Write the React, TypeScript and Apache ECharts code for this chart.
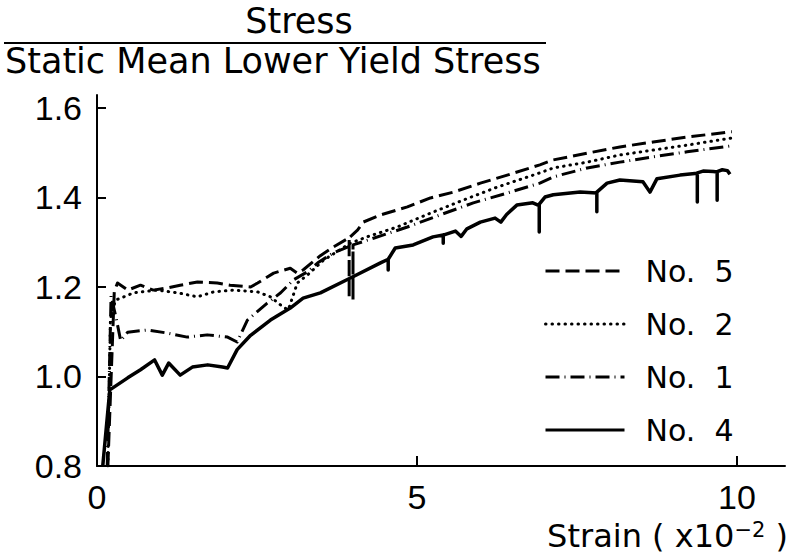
import React, { useEffect, useRef } from 'react';
import * as echarts from 'echarts';

const xLabelValues = [0, 5, 10];
const xTickValues = [5, 10];
const yLabelValues = [0.8, 1.0, 1.2, 1.4, 1.6];
const yTickValues = [1.0, 1.2, 1.4, 1.6];

const seriesNames = ['No. 5', 'No. 2', 'No. 1', 'No. 4'];

const no5Strain = [0.17, 0.27, 0.32, 0.48, 0.68, 0.88, 1.10, 1.30, 1.57, 1.88, 2.08, 2.40, 2.51, 2.76, 3.02, 3.13, 3.22, 3.49, 3.70, 3.94, 3.94, 3.94, 4.07, 4.16, 4.43, 4.85, 5.21, 5.57, 5.99, 6.41, 6.92, 7.13, 7.66, 8.17, 8.69, 9.22, 9.92];
const no5Stress = [0.80, 1.19, 1.209, 1.193, 1.204, 1.193, 1.198, 1.204, 1.211, 1.209, 1.204, 1.200, 1.209, 1.231, 1.242, 1.231, 1.238, 1.270, 1.290, 1.310, 1.175, 1.310, 1.327, 1.345, 1.361, 1.379, 1.399, 1.412, 1.432, 1.450, 1.473, 1.484, 1.499, 1.513, 1.524, 1.535, 1.547];

const no2Strain = [0.17, 0.21, 0.29, 0.37, 0.57, 0.94, 1.26, 1.57, 1.82, 2.13, 2.51, 2.71, 2.91, 2.99, 3.13, 3.29, 3.54, 3.96, 4.22, 4.69, 5.21, 5.72, 6.25, 6.92, 7.13, 7.66, 8.17, 8.69, 9.22, 9.92];
const no2Stress = [0.80, 1.13, 1.171, 1.175, 1.187, 1.193, 1.187, 1.178, 1.189, 1.193, 1.189, 1.178, 1.155, 1.149, 1.209, 1.227, 1.260, 1.298, 1.312, 1.334, 1.365, 1.394, 1.423, 1.455, 1.466, 1.479, 1.495, 1.506, 1.517, 1.533];

const no1Strain = [0.16, 0.22, 0.30, 0.37, 0.48, 0.79, 1.10, 1.41, 1.72, 2.04, 2.19, 2.35, 2.66, 2.87, 3.07, 3.29, 3.45, 3.69, 4.00, 4.00, 4.00, 4.32, 4.85, 5.36, 5.88, 6.41, 6.92, 7.13, 7.66, 8.17, 8.69, 9.22, 9.89];
const no1Stress = [0.80, 1.18, 1.13, 1.08, 1.099, 1.104, 1.097, 1.088, 1.093, 1.088, 1.077, 1.126, 1.164, 1.187, 1.216, 1.234, 1.254, 1.276, 1.294, 1.17, 1.294, 1.309, 1.334, 1.361, 1.388, 1.410, 1.432, 1.446, 1.466, 1.479, 1.491, 1.502, 1.515];

const no4Strain = [0.09, 0.20, 0.48, 0.68, 0.90, 1.02, 1.12, 1.30, 1.49, 1.73, 1.96, 2.04, 2.19, 2.40, 2.71, 3.02, 3.22, 3.49, 3.96, 4.43, 4.55, 4.55, 4.55, 4.66, 4.94, 5.25, 5.41, 5.41, 5.41, 5.60, 5.69, 5.78, 5.99, 6.22, 6.31, 6.40, 6.56, 6.81, 6.91, 6.91, 6.91, 7.00, 7.13, 7.55, 7.81, 7.81, 7.81, 7.97, 8.17, 8.53, 8.64, 8.75, 9.11, 9.38, 9.38, 9.38, 9.47, 9.63, 9.69, 9.69, 9.69, 9.77, 9.85, 9.89];
const no4Stress = [0.80, 0.97, 0.997, 1.015, 1.037, 1.003, 1.030, 1.003, 1.021, 1.026, 1.021, 1.019, 1.060, 1.092, 1.126, 1.153, 1.175, 1.187, 1.220, 1.254, 1.262, 1.238, 1.262, 1.287, 1.294, 1.312, 1.316, 1.298, 1.316, 1.325, 1.313, 1.330, 1.345, 1.354, 1.345, 1.362, 1.383, 1.388, 1.382, 1.323, 1.385, 1.401, 1.406, 1.412, 1.410, 1.368, 1.412, 1.432, 1.439, 1.435, 1.412, 1.442, 1.450, 1.454, 1.390, 1.455, 1.459, 1.458, 1.457, 1.394, 1.458, 1.462, 1.460, 1.452];

const zip = (xs: number[], ys: number[]) => xs.map((x, i) => [x, ys[i]]);

const TITLE_FONT = 'DejaVu Sans';
const TICK_FONT = 'Liberation Sans';

export default function App() {
  const ref = useRef<HTMLDivElement>(null);
  useEffect(() => {
    if (!ref.current) return;
    const chart = echarts.init(ref.current, null, { renderer: 'svg' });
    const styles: Record<string, any> = {
      'No. 5': { type: [14, 6], width: 3 },
      'No. 2': { type: [0.5, 6], width: 3, cap: 'round' },
      'No. 1': { type: [14, 5, 1, 5], width: 3 },
      'No. 4': { type: 'solid', width: 3.5 },
    };
    const dataMap: Record<string, number[][]> = {
      'No. 5': zip(no5Strain, no5Stress),
      'No. 2': zip(no2Strain, no2Stress),
      'No. 1': zip(no1Strain, no1Stress),
      'No. 4': zip(no4Strain, no4Stress),
    };
    chart.setOption({
      animation: false,
      backgroundColor: '#fff',
      grid: { left: 97, right: 8, top: 95, bottom: 91, containLabel: false },
      xAxis: {
        type: 'value', min: 0, max: 10.75, interval: 5,
        axisLine: { onZero: false, lineStyle: { color: '#000', width: 2 } },
        axisTick: { inside: true, length: 10, lineStyle: { color: '#000', width: 2 }, customValues: xTickValues },
        axisLabel: { margin: 14, color: '#000', fontFamily: TICK_FONT, fontSize: 34, customValues: xLabelValues, formatter: (v: number) => String(v) },
        splitLine: { show: false },
      },
      yAxis: {
        type: 'value', min: 0.8, max: 1.629, interval: 0.2,
        axisLine: { onZero: false, lineStyle: { color: '#000', width: 2 } },
        axisTick: { inside: true, length: 9, lineStyle: { color: '#000', width: 2 }, customValues: yTickValues },
        axisLabel: { margin: 15, color: '#000', fontFamily: TICK_FONT, fontSize: 34, customValues: yLabelValues, formatter: (v: number) => v.toFixed(1) },
        splitLine: { show: false },
      },
      legend: {
        orient: 'vertical', left: 539, top: 251, itemWidth: 79, itemHeight: 30, itemGap: 23,
        selectedMode: false,
        data: seriesNames,
        itemStyle: { opacity: 0, borderWidth: 0 },
        lineStyle: { width: 3 },
        formatter: (n: string) => n.replace(' ', '\u00a0\u00a0'),
        textStyle: { fontFamily: TITLE_FONT, fontSize: 30, color: '#000', lineHeight: 30, padding: [0, 0, 0, 16] },
      },
      series: seriesNames.map((name) => ({
        name, type: 'line', data: dataMap[name], showSymbol: false, symbol: 'none',
        color: '#000', lineStyle: { color: '#000', join: 'round', ...styles[name] },
      })),
      graphic: [
        { type: 'text', x: 299, y: 21, style: { text: 'Stress', font: `35px "${TITLE_FONT}"`, fill: '#000', align: 'center', verticalAlign: 'middle' } },
        { type: 'line', shape: { x1: 4, y1: 43, x2: 546, y2: 43 }, style: { stroke: '#000', lineWidth: 2 } },
        { type: 'text', x: 5, y: 61, style: { text: 'Static Mean Lower Yield Stress', font: `35px "${TITLE_FONT}"`, fill: '#000', align: 'left', verticalAlign: 'middle' } },
        {
          type: 'text', x: 788, y: 536,
          style: {
            text: '{a|Strain ( x10}{b|\u22122}{a| )}', align: 'right', verticalAlign: 'middle', fill: '#000',
            rich: {
              a: { fontFamily: TITLE_FONT, fontSize: 32, lineHeight: 34, fill: '#000' },
              b: { fontFamily: TITLE_FONT, fontSize: 21, lineHeight: 34, verticalAlign: 'top', padding: [0, 0, 16, 0], fill: '#000' },
            },
          },
        },
      ],
    });
    return () => chart.dispose();
  }, []);
  return <div ref={ref} style={{ width: 793, height: 557, position: 'absolute', left: 0, top: 0 }} />;
}
